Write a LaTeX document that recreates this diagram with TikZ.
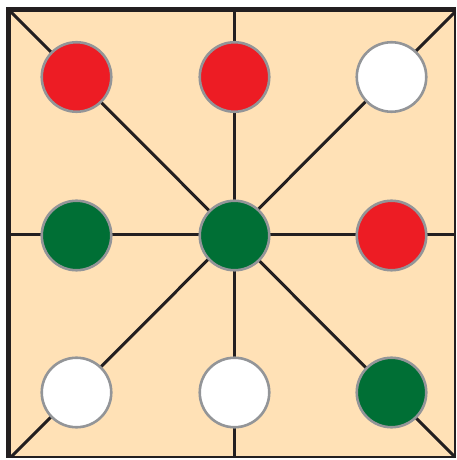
\documentclass[tikz,border=0pt]{standalone}
\definecolor{board}{HTML}{FFE1B6}
\definecolor{pred}{HTML}{ED1C24}
\definecolor{pgreen}{HTML}{006F35}
\definecolor{rimgray}{HTML}{939598}
\definecolor{ink}{HTML}{231F20}
\tikzset{
  piece/.style={circle, draw=rimgray, line width=2.6pt, minimum size=69.5pt, inner sep=0pt},
  redp/.style={piece, fill=pred},
  greenp/.style={piece, fill=pgreen},
  whitep/.style={piece, fill=white},
  boardline/.style={draw=ink, line width=3pt},
}
\begin{document}
\begin{tikzpicture}[x=1pt,y=1pt]
\useasboundingbox (0,0) rectangle (457,460);
% corner and edge-midpoint coordinates (image y flipped: 460-y)
\coordinate (TL) at (11,448);
\coordinate (TR) at (455,448);
\coordinate (BL) at (11,3);
\coordinate (BR) at (455,3);
\coordinate (TM) at (234,448);
\coordinate (BM) at (234,3);
\coordinate (LM) at (11,225);
\coordinate (RM) at (455,225);
\fill[board] (TL) rectangle (BR);
% lines
\draw[boardline] (TL) -- (BR);
\draw[boardline] (TR) -- (BL);
\draw[boardline] (TM) -- (BM);
\draw[boardline] (LM) -- (RM);
% frame
\draw[ink, line width=5pt] (8.5,2) -- (8.5,450.5);
\draw[ink, line width=5pt] (6,450.5) -- (455.5,450.5);
\draw[ink, line width=1.8pt] (455,450) -- (455,2);
\draw[ink, line width=2.8pt] (6,3) -- (456,3);
% pieces
\node[redp]   (a1) at (76.5,383) {};
\node[redp]   (a2) at (234.5,383) {};
\node[whitep] (a3) at (391.5,383) {};
\node[greenp] (b1) at (76.5,224.5) {};
\node[greenp] (b2) at (234.5,224.5) {};
\node[redp]   (b3) at (391.5,224.5) {};
\node[whitep] (c1) at (76.5,67.5) {};
\node[whitep] (c2) at (234.5,67.5) {};
\node[greenp] (c3) at (391.5,67.5) {};
\end{tikzpicture}
\end{document}
